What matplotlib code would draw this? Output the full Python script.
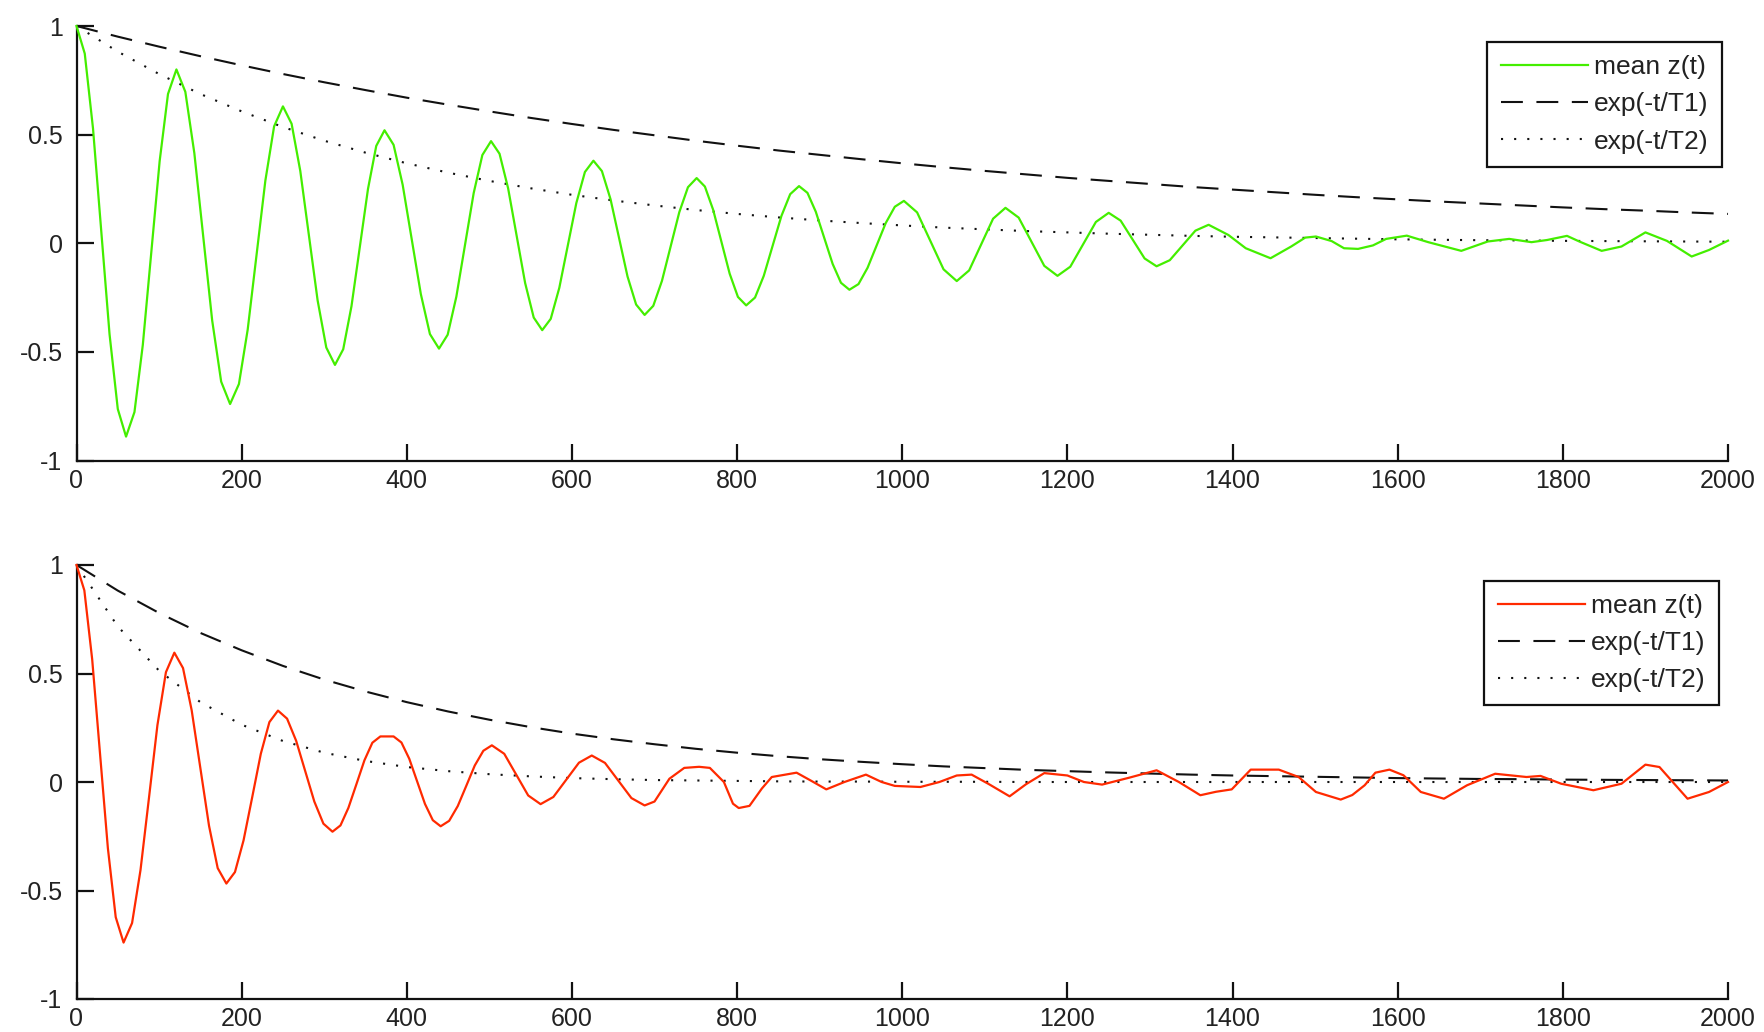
import matplotlib
matplotlib.use("Agg")
import matplotlib.pyplot as plt

plt.rcParams['font.family'] = ['Liberation Sans', 'DejaVu Sans']

# ---------------- data ----------------
x_ticks = [0, 200, 400, 600, 800, 1000, 1200, 1400, 1600, 1800, 2000]
x_tick_labels = ['0', '200', '400', '600', '800', '1000', '1200', '1400', '1600', '1800', '2000']
y_ticks = [-1, -0.5, 0, 0.5, 1]
y_tick_labels = ['-1', '-0.5', '0', '0.5', '1']
legend_labels = ['mean z(t)', 'exp(-t/T1)', 'exp(-t/T2)']

# envelope curves sampled every 50 time steps
t_env = [0, 50, 100, 150, 200, 250, 300, 350, 400, 450, 500, 550, 600, 650, 700, 750, 800,
         850, 900, 950, 1000, 1050, 1100, 1150, 1200, 1250, 1300, 1350, 1400, 1450, 1500,
         1550, 1600, 1650, 1700, 1750, 1800, 1850, 1900, 1950, 2000]
top_T1 = [1.000, 0.951, 0.905, 0.861, 0.819, 0.779, 0.741, 0.705, 0.670, 0.638, 0.607, 0.577,
          0.549, 0.522, 0.497, 0.472, 0.449, 0.427, 0.407, 0.387, 0.368, 0.350, 0.333, 0.317,
          0.301, 0.287, 0.273, 0.259, 0.247, 0.235, 0.223, 0.212, 0.202, 0.192, 0.183, 0.174,
          0.165, 0.157, 0.150, 0.142, 0.135]
top_T2 = [1.000, 0.882, 0.779, 0.687, 0.607, 0.535, 0.472, 0.417, 0.368, 0.325, 0.287, 0.253,
          0.223, 0.197, 0.174, 0.153, 0.135, 0.119, 0.105, 0.093, 0.082, 0.072, 0.064, 0.056,
          0.050, 0.044, 0.039, 0.034, 0.030, 0.027, 0.024, 0.021, 0.018, 0.016, 0.014, 0.013,
          0.011, 0.010, 0.009, 0.008, 0.007]
bot_T1 = [1.000, 0.882, 0.779, 0.687, 0.607, 0.535, 0.472, 0.417, 0.368, 0.325, 0.287, 0.253,
          0.223, 0.197, 0.174, 0.153, 0.135, 0.119, 0.105, 0.093, 0.082, 0.072, 0.064, 0.056,
          0.050, 0.044, 0.039, 0.034, 0.030, 0.027, 0.024, 0.021, 0.018, 0.016, 0.014, 0.013,
          0.011, 0.010, 0.009, 0.008, 0.007]
bot_T2 = [1.000, 0.717, 0.513, 0.368, 0.264, 0.189, 0.135, 0.097, 0.069, 0.050, 0.036, 0.026,
          0.018, 0.013, 0.009, 0.007, 0.005, 0.003, 0.002, 0.002, 0.001, 0.001, 0.001, 0.000,
          0.000, 0.000, 0.000, 0.000, 0.000, 0.000, 0.000, 0.000, 0.000, 0.000, 0.000, 0.000,
          0.000, 0.000, 0.000, 0.000, 0.000]

# mean z(t), top panel (green)
top_t = [0, 10, 20, 30, 40, 50,
         60, 70.2, 80.3, 90.5, 100.7, 110.8,
         121, 131.8, 142.7, 153.5, 164.3, 175.2,
         186, 196.7, 207.3, 218, 228.7, 239.3,
         250, 260.5, 271, 281.5, 292, 302.5,
         313, 323, 333, 343, 353, 363,
         373, 384, 395, 406, 417, 428,
         439, 449.5, 460, 470.5, 481, 491.5,
         502, 512.3, 522.7, 533, 543.3, 553.7,
         564, 574.3, 584.7, 595, 605.3, 615.7,
         626, 636.3, 646.7, 657, 667.3, 677.7,
         688, 698.5, 709, 719.5, 730, 740.5,
         751, 761, 771, 781, 791, 801,
         811, 821.7, 832.3, 843, 853.7, 864.3,
         875, 885.2, 895.3, 905.5, 915.7, 925.8,
         936, 947, 958, 969, 980, 991,
         1002, 1018, 1034, 1050, 1066, 1081, 1095.5, 1110, 1125, 1141, 1156.5, 1172,
         1188, 1203.5, 1219, 1234.5, 1250, 1264.5, 1279, 1293.5, 1308, 1324, 1339.5, 1355,
         1371, 1395, 1416, 1446, 1471, 1488, 1501, 1520, 1535, 1552, 1570, 1586, 1611, 1637,
         1677, 1709, 1735, 1762, 1781, 1805, 1820, 1847, 1871, 1900, 1926, 1956, 1977, 2000]
top_z = [1.0, 0.873, 0.528, 0.055, -0.418, -0.763,
         -0.89, -0.777, -0.468, -0.045, 0.378, 0.687,
         0.80, 0.697, 0.415, 0.03, -0.355, -0.637,
         -0.74, -0.648, -0.398, -0.055, 0.288, 0.538,
         0.63, 0.550, 0.333, 0.035, -0.263, -0.480,
         -0.56, -0.488, -0.29, -0.02, 0.25, 0.448,
         0.52, 0.453, 0.269, 0.018, -0.234, -0.418,
         -0.485, -0.421, -0.246, -0.008, 0.231, 0.406,
         0.47, 0.412, 0.253, 0.035, -0.183, -0.342,
         -0.40, -0.348, -0.205, -0.01, 0.185, 0.328,
         0.38, 0.332, 0.203, 0.025, -0.153, -0.282,
         -0.33, -0.288, -0.173, -0.015, 0.143, 0.258,
         0.30, 0.261, 0.154, 0.007, -0.140, -0.247,
         -0.286, -0.250, -0.150, -0.012, 0.126, 0.226,
         0.263, 0.232, 0.145, 0.025, -0.095, -0.182,
         -0.214, -0.188, -0.113, -0.01, 0.093, 0.168,
         0.195, 0.142, 0.011, -0.12, -0.174, -0.125, -0.006, 0.113, 0.163, 0.118, 0.007, -0.104,
         -0.15, -0.108, -0.005, 0.098, 0.14, 0.104, 0.017, -0.07, -0.106, -0.078, -0.01, 0.058,
         0.085, 0.038, -0.023, -0.069, -0.015, 0.026, 0.031, 0.01, -0.023, -0.026, -0.01, 0.02,
         0.035, 0.005, -0.035, 0.008, 0.02, 0.005, 0.015, 0.034, 0.008, -0.035, -0.015, 0.05,
         0.011, -0.061, -0.031, 0.012]

# mean z(t), bottom panel (red)
bot_t = [0, 9.5, 19, 28.5, 38, 47.5,
         57, 67.3, 77.5, 87.8, 98, 108.3,
         118.5, 129, 139.5, 150, 160.5, 171,
         181.5, 191.9, 202.3, 212.8, 223.2, 233.6,
         244, 255, 266, 277, 288, 299,
         310, 319.7, 329.3, 339, 348.7, 358.3,
         368, 384, 393.5, 403, 412.5, 422, 431.5,
         441, 451.3, 461.7, 472, 482.3, 492.7,
         503, 518, 532.5, 547, 562, 577.5, 593, 608.5, 624, 640, 656, 672, 688, 700, 718,
         736, 754, 767, 784, 795, 802, 815, 830, 842, 872, 890, 908, 930, 956, 975, 991, 1022,
         1045, 1066, 1084, 1105, 1130, 1150, 1172, 1200, 1220, 1242, 1275, 1308, 1335, 1361,
         1380, 1399, 1422, 1456, 1480, 1501, 1531, 1545, 1560, 1573, 1590, 1607, 1628, 1656,
         1684, 1718, 1756, 1773, 1798, 1837, 1871, 1900, 1917, 1951, 1977, 2000]
bot_z = [1.0, 0.883, 0.565, 0.13, -0.305, -0.623,
         -0.74, -0.650, -0.406, -0.072, 0.262, 0.506,
         0.596, 0.525, 0.33, 0.064, -0.202, -0.397,
         -0.468, -0.415, -0.269, -0.07, 0.13, 0.276,
         0.329, 0.292, 0.19, 0.05, -0.09, -0.192,
         -0.229, -0.200, -0.119, -0.01, 0.100, 0.181,
         0.21, 0.21, 0.182, 0.107, 0.003, -0.101, -0.176,
         -0.204, -0.179, -0.111, -0.018, 0.076, 0.144,
         0.169, 0.13, 0.034, -0.062, -0.102, -0.069, 0.01, 0.089, 0.122, 0.088, 0.007, -0.074,
         -0.108, -0.09, 0.015, 0.065, 0.07, 0.065, 0.0, -0.1, -0.12, -0.11, -0.03, 0.023, 0.043,
         0.005, -0.034, 0.0, 0.034, 0.0, -0.018, -0.023, 0.0, 0.03, 0.034, -0.01, -0.066, -0.01,
         0.041, 0.03, 0.0, -0.012, 0.02, 0.054, 0.0, -0.061, -0.045, -0.034, 0.057, 0.057,
         0.023, -0.046, -0.081, -0.06, -0.015, 0.043, 0.057, 0.031, -0.046, -0.077, -0.015,
         0.038, 0.023, 0.028, -0.008, -0.038, -0.008, 0.08, 0.069, -0.077, -0.046, 0.0]

# ---------------- figure ----------------
W, H = 1764, 1032
fig = plt.figure(figsize=(W / 100, H / 100), dpi=100)

def px_axes(x0, x1, ytop, ybot):
    return fig.add_axes([x0 / W, 1 - ybot / H, (x1 - x0) / W, (ybot - ytop) / H])

ax_top = px_axes(76.5, 1728, 26, 460.5)
ax_bot = px_axes(76.5, 1728, 565, 999)

FS = 18
LFS = 19
LW = 1.6
ELW = 1.5

def style(ax):
    ax.set_xlim(0, 2000)
    ax.set_ylim(-1, 1)
    ax.set_xticks(x_ticks)
    ax.set_xticklabels(x_tick_labels)
    ax.set_yticks(y_ticks)
    ax.set_yticklabels(y_tick_labels)
    for s in ['top', 'right']:
        ax.spines[s].set_visible(False)
    for s in ['left', 'bottom']:
        ax.spines[s].set_linewidth(1.6)
        ax.spines[s].set_color('#111111')
    ax.tick_params(axis='both', direction='in', length=12, width=1.6, colors='#111111',
                   labelsize=FS, labelcolor='#222222')
    ax.tick_params(axis='x', pad=6)
    ax.tick_params(axis='y', pad=10)

def panel(ax, t, z, T1, T2, color, anchor):
    style(ax)
    l1, = ax.plot(t, z, color=color, lw=LW, clip_on=False, zorder=3)
    l2, = ax.plot(t_env, T1, color='#111111', lw=ELW, linestyle=(0, (10.5, 6.5)), clip_on=False)
    l3, = ax.plot(t_env, T2, color='#111111', lw=ELW, linestyle=(0, (1, 5.3)), clip_on=False)
    leg = ax.legend([l1, l2, l3], legend_labels, loc='upper right', bbox_to_anchor=anchor,
                    fontsize=LFS, frameon=True, fancybox=False, edgecolor='#111111',
                    framealpha=1, borderaxespad=0, handlelength=3.3, handletextpad=0.25,
                    labelspacing=0.5, borderpad=0.5)
    leg.get_frame().set_linewidth(1.6)
    for txt in leg.get_texts():
        txt.set_color('#222222')

panel(ax_top, top_t, top_z, top_T1, top_T2, '#44ee00', (0.9964, 0.9632))
panel(ax_bot, bot_t, bot_z, bot_T1, bot_T2, '#ff2a00', (0.9946, 0.9638))

fig.savefig('out.png', dpi=100, facecolor='white')
